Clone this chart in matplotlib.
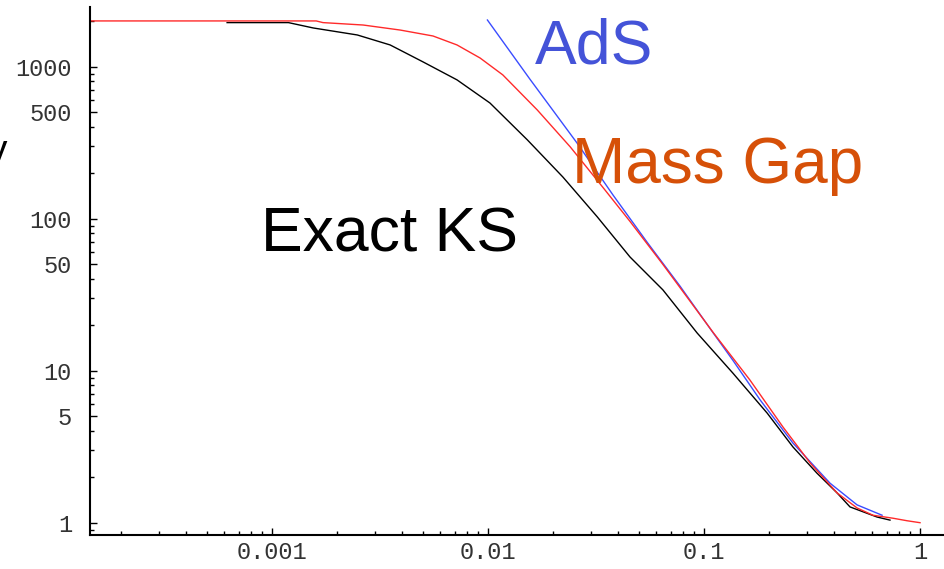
import matplotlib.pyplot as plt
import matplotlib.ticker as ticker
import numpy as np

# curves (log-log axes)
massGapX = [1.44e-4, 0.0012, 0.0016, 0.00172, 0.00264, 0.00392, 0.00556, 0.00718,
            0.00918, 0.0117, 0.0169, 0.0240, 0.0341, 0.0454, 0.0645, 0.110,
            0.163, 0.232, 0.310, 0.413, 0.511, 0.605, 0.750, 0.871, 1.0]
massGapY = [2000, 2000, 2000, 1950, 1880, 1742, 1592, 1390,
            1141, 883, 519, 297, 160, 96, 50, 17.9,
            8.69, 4.26, 2.47, 1.57, 1.25, 1.12, 1.07, 1.03, 1.0]

exactKSX = [6.19e-4, 0.00119, 0.00155, 0.00248, 0.00352, 0.00500, 0.00718, 0.0102,
            0.0152, 0.0222, 0.0320, 0.0454, 0.0645, 0.0929, 0.136, 0.196,
            0.258, 0.333, 0.413, 0.474, 0.632, 0.726]
exactKSY = [1950, 1950, 1798, 1617, 1390, 1075, 819, 577,
            330, 188, 103, 56, 34, 17.7, 9.64, 5.26,
            3.15, 2.12, 1.57, 1.27, 1.09, 1.04]

adsX = [0.00993, 0.0156, 0.0258, 0.0379, 0.0545, 0.0774, 0.110, 0.136,
        0.182, 0.258, 0.383, 0.511, 0.667]
adsY = [2028, 830, 315, 143, 70, 36, 17.8, 11.7,
        6.41, 3.34, 1.82, 1.31, 1.12]

xTicks = [0.001, 0.01, 0.1, 1]
xTickLabels = ['0.001', '0.01', '0.1', '1']
yTicks = [1, 5, 10, 50, 100, 500, 1000]
yTickLabels = ['1', '5', '10', '50', '100', '500', '1000']

W, H = 945, 569
fig = plt.figure(figsize=(W/100, H/100), dpi=100)
ax = fig.add_axes([90/W, 34/H, 855/W, 528/H])

ax.plot(exactKSX, exactKSY, color='black', lw=1.0)
ax.plot(adsX, adsY, color='#3a4cff', lw=1.0)
ax.plot(massGapX, massGapY, color='#ff2a2a', lw=1.0)

ax.set_xscale('log')
ax.set_yscale('log')
ax.set_xlim(1.435e-4, 1.305)
ax.set_ylim(0.83, 2470)

ax.set_xticks(xTicks, xTickLabels)
ax.set_yticks(yTicks, yTickLabels)
ax.xaxis.set_minor_locator(ticker.LogLocator(base=10, subs=np.arange(2, 10), numticks=20))
ax.yaxis.set_minor_locator(ticker.LogLocator(base=10, subs=np.arange(2, 10), numticks=20))
ax.xaxis.set_minor_formatter(ticker.NullFormatter())
ax.yaxis.set_minor_formatter(ticker.NullFormatter())

for s in ['top', 'right']:
    ax.spines[s].set_visible(False)
for s in ['left', 'bottom']:
    ax.spines[s].set_linewidth(1.5)

ax.tick_params(which='both', direction='in', width=1.0)
ax.tick_params(which='major', length=5)
ax.tick_params(which='minor', length=3)
ax.tick_params(axis='x', which='major', pad=4)
ax.tick_params(axis='y', which='major', pad=13)
for lab in ax.get_xticklabels() + ax.get_yticklabels():
    lab.set_family('Liberation Mono')
    lab.set_fontsize(17)
    lab.set_color('#333333')

# curve names
fig.text(535/W, 1 - 63/H, 'AdS', color='#4453d8', fontsize=45,
         family='Liberation Sans', ha='left', va='baseline')
fig.text(572/W, 1 - 183/H, 'Mass Gap', color='#d65008', fontsize=46,
         family='Liberation Sans', ha='left', va='baseline')
fig.text(261/W, 1 - 252/H, 'Exact KS', color='black', fontsize=45,
         family='Liberation Sans', ha='left', va='baseline')

# axis label cut off at the left edge
fig.text(7/W, 1 - 152/H, 'y', color='black', fontsize=28,
         family='Liberation Sans', ha='right', va='center')

fig.savefig('out.png', dpi=100)
